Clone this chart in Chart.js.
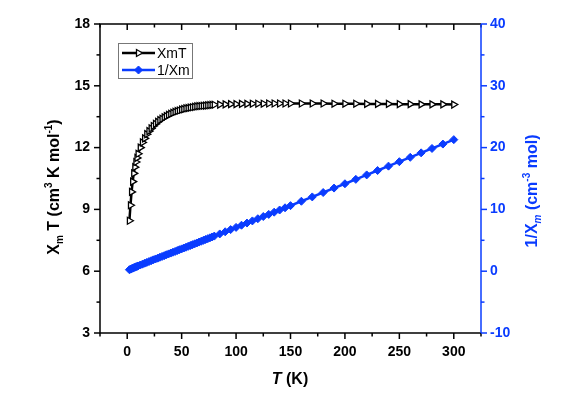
<!DOCTYPE html>
<html>
<head>
<meta charset="utf-8">
<script src="https://cdn.jsdelivr.net/npm/chart.js@4.4.1/dist/chart.umd.min.js"></script>
<style>
  html, body { margin: 0; padding: 0; background: #fff; }
  #wrap { width: 564px; height: 399px; position: relative; }
</style>
</head>
<body>
<div id="wrap"><canvas id="chart"></canvas></div>
<script>
// --- DATA ---
const temps = [2, 3, 4, 5, 6, 7, 8, 9, 10, 12, 14, 16, 18, 20, 22, 24, 26, 28, 30, 32, 34, 36, 38, 40,
  42, 44, 46, 48, 50, 52, 54, 56, 58, 60, 62, 64, 66, 68, 70, 72, 74, 76, 78, 80,
  85, 90, 95, 100, 105, 110, 115, 120, 125, 130, 135, 140, 145, 150,
  160, 170, 180, 190, 200, 210, 220, 230, 240, 250, 260, 270, 280, 290, 300];
const xmT = [8.45, 9.2, 9.85, 10.35, 10.75, 11.05, 11.3, 11.5, 11.7, 12.0, 12.25, 12.45, 12.65, 12.8,
  12.93, 13.05, 13.15, 13.25, 13.33, 13.4, 13.47, 13.53, 13.59, 13.64, 13.69, 13.73, 13.77, 13.8,
  13.84, 13.87, 13.9, 13.92, 13.94, 13.96, 13.98, 14.0, 14.01, 14.02, 14.03, 14.04, 14.05, 14.06,
  14.07, 14.08,
  14.09, 14.1, 14.11, 14.11, 14.12, 14.12, 14.13, 14.13, 14.13, 14.14, 14.14, 14.14, 14.14, 14.14,
  14.14, 14.14, 14.14, 14.13, 14.13, 14.13, 14.12, 14.12, 14.12, 14.11, 14.11, 14.1, 14.1, 14.1, 14.09];
const invXm = [0.24, 0.33, 0.41, 0.48, 0.56, 0.63, 0.71, 0.78, 0.85, 1.0, 1.14, 1.29, 1.42, 1.56,
  1.70, 1.84, 1.98, 2.11, 2.25, 2.39, 2.52, 2.66, 2.80, 2.93, 3.07, 3.20, 3.34, 3.48,
  3.61, 3.75, 3.88, 4.02, 4.16, 4.30, 4.43, 4.57, 4.71, 4.85, 4.99, 5.13, 5.27, 5.40,
  5.54, 5.68,
  6.03, 6.38, 6.73, 7.09, 7.44, 7.79, 8.14, 8.49, 8.85, 9.19, 9.55, 9.90, 10.26, 10.61,
  11.32, 12.02, 12.73, 13.45, 14.15, 14.86, 15.58, 16.29, 17.00, 17.72, 18.43, 19.15, 19.86, 20.57, 21.29];

const xTickLabels = [0, 50, 100, 150, 200, 250, 300];
const leftTickLabels = [3, 6, 9, 12, 15, 18];
const rightTickLabels = [-10, 0, 10, 20, 30, 40];

const BLUE = '#0a3cff';
const FONT = "'Liberation Sans', Arial, sans-serif";

// --- PLUGINS ---
// axis lines and ticks (major + minor) drawn from the chart's scales
const frameTicks = {
  id: 'frameTicks',
  afterDraw(chart) {
    const { ctx, chartArea: a, scales } = chart;
    ctx.save();
    ctx.lineWidth = 1.5;
    // x ticks (bottom outward, top inward)
    ctx.strokeStyle = '#000';
    for (let v = -25; v <= 325; v += 25) {
      const px = scales.x.getPixelForValue(v);
      const len = v % 50 === 0 ? 6 : 3.5;
      ctx.beginPath();
      ctx.moveTo(px, a.bottom); ctx.lineTo(px, a.bottom + len);
      ctx.moveTo(px, a.top); ctx.lineTo(px, a.top + len);
      ctx.stroke();
    }
    // left y ticks
    for (let v = 3; v <= 18.001; v += 1.5) {
      const py = scales.y.getPixelForValue(v);
      const len = Math.round(v * 10) % 30 === 0 ? 6 : 3.5;
      ctx.beginPath();
      ctx.moveTo(a.left, py); ctx.lineTo(a.left - len, py);
      ctx.stroke();
    }
    // frame (left, bottom, top)
    ctx.beginPath();
    ctx.moveTo(a.right, a.top); ctx.lineTo(a.left, a.top);
    ctx.lineTo(a.left, a.bottom); ctx.lineTo(a.right, a.bottom);
    ctx.stroke();
    // right blue axis
    ctx.strokeStyle = BLUE;
    ctx.beginPath();
    ctx.moveTo(a.right, a.top); ctx.lineTo(a.right, a.bottom);
    ctx.stroke();
    for (let v = -10; v <= 40; v += 5) {
      const py = scales.y2.getPixelForValue(v);
      const len = v % 10 === 0 ? 6 : 3.5;
      ctx.beginPath();
      ctx.moveTo(a.right, py); ctx.lineTo(a.right + len, py);
      ctx.stroke();
    }
    ctx.restore();
  }
};

// rich text titles with sub/superscripts
function drawRich(ctx, parts, size, color) {
  const small = Math.round(size * 0.62);
  let w = 0;
  parts.forEach(p => {
    const s = p.k === 'n' ? size : small;
    ctx.font = (p.it ? 'italic ' : '') + 'bold ' + s + 'px ' + FONT;
    p.w = ctx.measureText(p.t).width;
    w += p.w;
  });
  let x = -w / 2;
  ctx.fillStyle = color;
  ctx.textBaseline = 'alphabetic';
  ctx.textAlign = 'left';
  parts.forEach(p => {
    const s = p.k === 'n' ? size : small;
    ctx.font = (p.it ? 'italic ' : '') + 'bold ' + s + 'px ' + FONT;
    const dy = p.k === 'sup' ? -size * 0.45 : p.k === 'sub' ? size * 0.25 : 0;
    ctx.fillText(p.t, x, dy);
    x += p.w;
  });
}

const titles = {
  id: 'titles',
  afterDraw(chart) {
    const { ctx } = chart;
    ctx.save();
    ctx.translate(59, 187);
    ctx.rotate(-Math.PI / 2);
    drawRich(ctx, [{ t: 'X', k: 'n' }, { t: 'm', k: 'sub' }, { t: ' T (cm', k: 'n' }, { t: '3', k: 'sup' },
      { t: ' K mol', k: 'n' }, { t: '-1', k: 'sup' }, { t: ')', k: 'n' }], 16, '#000');
    ctx.restore();

    ctx.save();
    ctx.translate(537, 191);
    ctx.rotate(-Math.PI / 2);
    drawRich(ctx, [{ t: '1/X', k: 'n' }, { t: 'm', k: 'sub', it: true }, { t: ' (cm', k: 'n' }, { t: '-3', k: 'sup' },
      { t: ' mol)', k: 'n' }], 16, BLUE);
    ctx.restore();

    ctx.save();
    ctx.translate(290, 384);
    drawRich(ctx, [{ t: 'T', k: 'n', it: true }, { t: ' (K)', k: 'n' }], 16, '#000');
    ctx.restore();
  }
};

// legend inside the plot
const boxLegend = {
  id: 'boxLegend',
  afterDraw(chart) {
    const { ctx } = chart;
    ctx.save();
    ctx.strokeStyle = '#777';
    ctx.lineWidth = 1;
    ctx.strokeRect(118.5, 43.5, 74, 35);
    const rows = [{ ds: chart.data.datasets[0], y: 53 }, { ds: chart.data.datasets[1], y: 70 }];
    rows.forEach(r => {
      const ds = r.ds;
      ctx.strokeStyle = ds.borderColor;
      ctx.lineWidth = 2.5;
      ctx.beginPath();
      ctx.moveTo(122, r.y); ctx.lineTo(155, r.y);
      ctx.stroke();
      ctx.fillStyle = ds.pointBackgroundColor;
      ctx.strokeStyle = ds.pointBorderColor;
      ctx.lineWidth = ds.pointBorderWidth;
      Chart.helpers.drawPoint(ctx, { pointStyle: ds.pointStyle, radius: ds.pointRadius, rotation: ds.pointRotation || 0, borderWidth: ds.pointBorderWidth }, 138.5, r.y);
      ctx.fillStyle = '#000';
      ctx.font = '14px ' + FONT;
      ctx.textBaseline = 'middle';
      ctx.textAlign = 'left';
      ctx.fillText(ds.label, 157, r.y + 1);
    });
    ctx.restore();
  }
};

// --- CHART ---
const xmTPoints = temps.map((t, i) => ({ x: t, y: xmT[i] }));
const invPoints = temps.map((t, i) => ({ x: t, y: invXm[i] }));

new Chart(document.getElementById('chart'), {
  type: 'line',
  data: {
    datasets: [
      {
        label: 'XmT', data: xmTPoints, yAxisID: 'y',
        borderColor: '#000', borderWidth: 2.5,
        pointStyle: 'triangle', pointRotation: 90, pointRadius: 4,
        pointBackgroundColor: '#fff', pointBorderColor: '#000', pointBorderWidth: 1.3,
        tension: 0
      },
      {
        label: '1/Xm', data: invPoints, yAxisID: 'y2',
        borderColor: BLUE, borderWidth: 2.5,
        pointStyle: 'rectRot', pointRadius: 4,
        pointBackgroundColor: BLUE, pointBorderColor: BLUE, pointBorderWidth: 1,
        tension: 0
      }
    ]
  },
  options: {
    responsive: true,
    maintainAspectRatio: false,
    animation: false,
    layout: { padding: { top: 24, left: 0, right: 0, bottom: 0 } },
    plugins: { legend: { display: false }, tooltip: { enabled: false } },
    scales: {
      x: {
        type: 'linear', min: -25, max: 325,
        afterFit: s => { s.height = 66; },
        afterBuildTicks: s => { s.ticks = xTickLabels.map(v => ({ value: v })); },
        grid: { display: false, drawTicks: false }, border: { display: false },
        ticks: { color: '#000', padding: 11, font: { family: FONT, size: 14, weight: 'bold' } }
      },
      y: {
        type: 'linear', position: 'left', min: 3, max: 18,
        afterFit: s => { s.width = 100; },
        afterBuildTicks: s => { s.ticks = leftTickLabels.map(v => ({ value: v })); },
        grid: { display: false, drawTicks: false }, border: { display: false },
        ticks: { color: '#000', padding: 10, font: { family: FONT, size: 14, weight: 'bold' } }
      },
      y2: {
        type: 'linear', position: 'right', min: -10, max: 40,
        afterFit: s => { s.width = 83; },
        afterBuildTicks: s => { s.ticks = rightTickLabels.map(v => ({ value: v })); },
        grid: { display: false, drawTicks: false }, border: { display: false },
        ticks: { color: BLUE, padding: 9, font: { family: FONT, size: 14, weight: 'bold' } }
      }
    }
  },
  plugins: [frameTicks, titles, boxLegend]
});
</script>
</body>
</html>
